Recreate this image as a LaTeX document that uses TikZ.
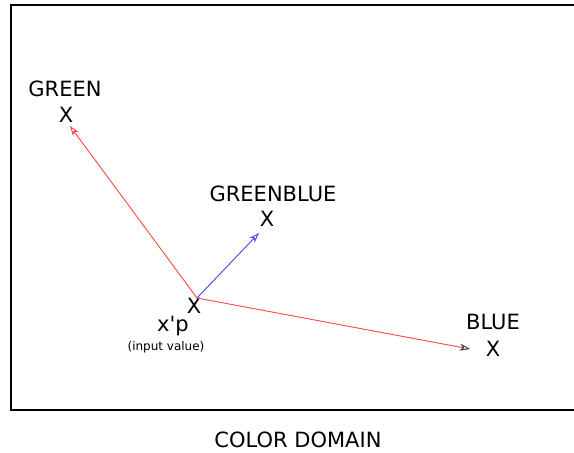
\documentclass[tikz,border=0pt]{standalone}
\usepackage{fontspec}
\setmainfont{DejaVu Sans}
\usetikzlibrary{arrows.meta}
\definecolor{vecred}{RGB}{255,70,70}
\definecolor{vecblue}{RGB}{70,70,255}
\begin{document}
\begin{tikzpicture}[x=1pt,y=-1pt,
  lbl/.style={inner sep=0pt,font=\fontsize{21}{24}\selectfont},
  xmark/.style={inner sep=0pt,font=\fontsize{21}{24}\selectfont},
  note/.style={inner sep=0pt,font=\fontsize{12}{14}\selectfont},
  vec/.style={line width=0.9pt,-{Stealth[open,length=10pt,width=7pt,inset=2.8pt]}}]
  \useasboundingbox (0,0) rectangle (574,453);
  % domain frame (its right side runs past the page)
  \draw[line width=2.8pt] (620,5) -- (11,5) -- (11,410) -- (620,410);
  % points of the colour domain
  \node[lbl]   (green)  at (65,89)   {GREEN};
  \node[xmark] (gx)     at (66,115)  {X};
  \node[lbl]   (gb)     at (273,194) {GREENBLUE};
  \node[xmark] (gbx)    at (267,219) {X};
  \node[xmark] (px)     at (194,306) {X};
  \node[lbl]   (pl)     at (173,326) {x\textquotesingle p};
  \node[note]  (pin)    at (166,347) {(input value)};
  \node[lbl]   (blue)   at (493,322) {BLUE};
  \node[xmark] (bx)     at (493,349) {X};
  \node[lbl]   (title)  at (298,440) {COLOR DOMAIN};
  % vector ends
  \coordinate (o)  at (197,298);
  \coordinate (tg) at (70,126);
  \coordinate (tb) at (259,233);
  \coordinate (tl) at (470,349);
  \draw[vec,vecred]  (o) -- (tg);
  \draw[vec,vecblue] (o) -- (tb);
  \draw[line width=0.9pt,vecred,-{Stealth[open,length=10pt,width=7pt,inset=2.8pt,color=black!80]}] (o) -- (tl);
\end{tikzpicture}
\end{document}
